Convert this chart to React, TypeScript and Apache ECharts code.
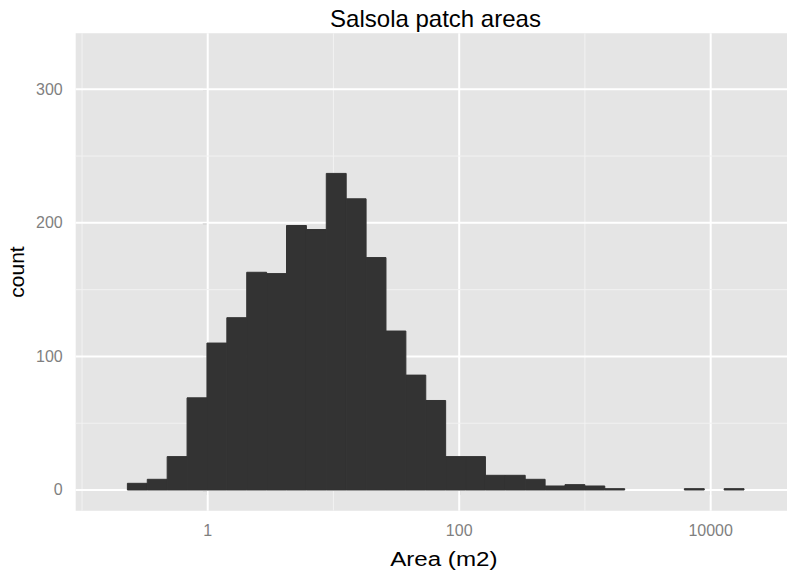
import { useEffect, useRef } from "react";
import * as echarts from "echarts";

const TITLE = "Salsola patch areas";
const X_TITLE = "Area (m2)";
const Y_TITLE = "count";

// histogram bins on log10(area) scale
const BIN_START = -0.639; // log10 of the first bin's left edge
const BIN_WIDTH = 0.1582; // bin width in log10 units
const COUNTS = [
  5, 8, 25, 69, 110, 129, 163, 162, 198, 195, 237, 218, 174, 119, 86, 67, 25,
  25, 11, 11, 8, 3, 4, 3, 1, 0, 0, 0, 1, 0, 1,
];

// axis ticks (x values are log10 of the area)
const X_MAJOR = [0, 2, 4];
const X_MINOR = [-1, 1, 3];
const Y_MAJOR = [0, 100, 200, 300];
const Y_MINOR = [50, 150, 250];

const X_MIN = -1.05;
const X_MAX = 4.607;
const Y_MIN = -15.5;
const Y_MAX = 341.9;

const FONT = "'Liberation Sans', Arial, Helvetica, sans-serif";

export default function App() {
  const ref = useRef<HTMLDivElement>(null);

  useEffect(() => {
    if (!ref.current) return;
    const chart = echarts.init(ref.current, null, { renderer: "svg" });

    const bars = COUNTS.map((c, i) => [
      BIN_START + i * BIN_WIDTH,
      BIN_START + (i + 1) * BIN_WIDTH,
      c,
    ]);
    const vLines = [
      ...X_MINOR.map((v) => [v, 0, 0]),
      ...X_MAJOR.map((v) => [v, 0, 1]),
    ];
    const hLines = [
      ...Y_MINOR.map((v) => [0, v, 0]),
      ...Y_MAJOR.map((v) => [0, v, 1]),
    ];

    const axisCommon = {
      axisLine: { show: false },
      splitLine: { show: false },
      axisTick: {
        show: true,
        length: 5,
        lineStyle: { color: "#7F7F7F", width: 1.2 },
      },
    };

    chart.setOption({
      animation: false,
      grid: {
        show: true,
        backgroundColor: "#E5E5E5",
        borderWidth: 0,
        left: 75.7,
        top: 33.3,
        right: 0,
        bottom: 60.3,
        containLabel: false,
        outerBoundsMode: "none",
      },
      xAxis: {
        type: "value",
        min: X_MIN,
        max: X_MAX,
        ...axisCommon,
        axisTick: { ...axisCommon.axisTick, customValues: X_MAJOR },
        axisLabel: {
          customValues: X_MAJOR,
          color: "#7F7F7F",
          fontSize: 16,
          fontFamily: FONT,
          margin: 12,
          formatter: (v: number) => String(Math.round(Math.pow(10, v))),
        },
      },
      yAxis: {
        type: "value",
        min: Y_MIN,
        max: Y_MAX,
        ...axisCommon,
        axisTick: { ...axisCommon.axisTick, customValues: Y_MAJOR },
        axisLabel: {
          customValues: Y_MAJOR,
          color: "#7F7F7F",
          fontSize: 16,
          fontFamily: FONT,
          margin: 13,
        },
      },
      graphic: [
        {
          type: "text",
          x: 435.5,
          y: 18.5,
          style: {
            text: TITLE,
            fill: "#000",
            font: `24px ${FONT}`,
            textAlign: "center",
            textVerticalAlign: "middle",
          },
        },
        {
          type: "text",
          x: 443.8,
          y: 559,
          scaleX: 1.15,
          style: {
            text: X_TITLE,
            fill: "#000",
            font: `21px ${FONT}`,
            textAlign: "center",
            textVerticalAlign: "middle",
          },
        },
        {
          type: "text",
          x: 16.3,
          y: 272,
          rotation: Math.PI / 2,
          style: {
            text: Y_TITLE,
            fill: "#000",
            font: `21px ${FONT}`,
            textAlign: "center",
            textVerticalAlign: "middle",
          },
        },
      ],
      series: [
        {
          type: "custom",
          z: 1,
          silent: true,
          data: vLines,
          encode: { x: 0, y: 1 },
          renderItem: (params: any, api: any) => {
            const cs = params.coordSys;
            const x = api.coord([api.value(0), 0])[0];
            const major = api.value(2) === 1;
            return {
              type: "line",
              shape: { x1: x, y1: cs.y, x2: x, y2: cs.y + cs.height },
              style: {
                stroke: major ? "#FFFFFF" : "#F2F2F2",
                lineWidth: major ? 2 : 1,
              },
            };
          },
        },
        {
          type: "custom",
          z: 1,
          silent: true,
          data: hLines,
          encode: { x: 0, y: 1 },
          renderItem: (params: any, api: any) => {
            const cs = params.coordSys;
            const y = api.coord([0, api.value(1)])[1];
            const major = api.value(2) === 1;
            return {
              type: "line",
              shape: { x1: cs.x, y1: y, x2: cs.x + cs.width, y2: y },
              style: {
                stroke: major ? "#FFFFFF" : "#F2F2F2",
                lineWidth: major ? 2 : 1,
              },
            };
          },
        },
        {
          type: "custom",
          z: 2,
          data: bars,
          encode: { x: [0, 1], y: 2 },
          renderItem: (params: any, api: any) => {
            const c = api.value(2);
            if (!c) return null;
            const p0 = api.coord([api.value(0), 0]);
            const p1 = api.coord([api.value(1), c]);
            return {
              type: "rect",
              shape: {
                x: p0[0],
                y: p1[1],
                width: p1[0] - p0[0],
                height: p0[1] - p1[1],
              },
              style: { fill: "#333333", stroke: "#333333", lineWidth: 1 },
            };
          },
        },
      ],
    });

    return () => chart.dispose();
  }, []);

  return (
    <div
      ref={ref}
      style={{ position: "absolute", left: 0, top: 0, width: 787, height: 571 }}
    />
  );
}
